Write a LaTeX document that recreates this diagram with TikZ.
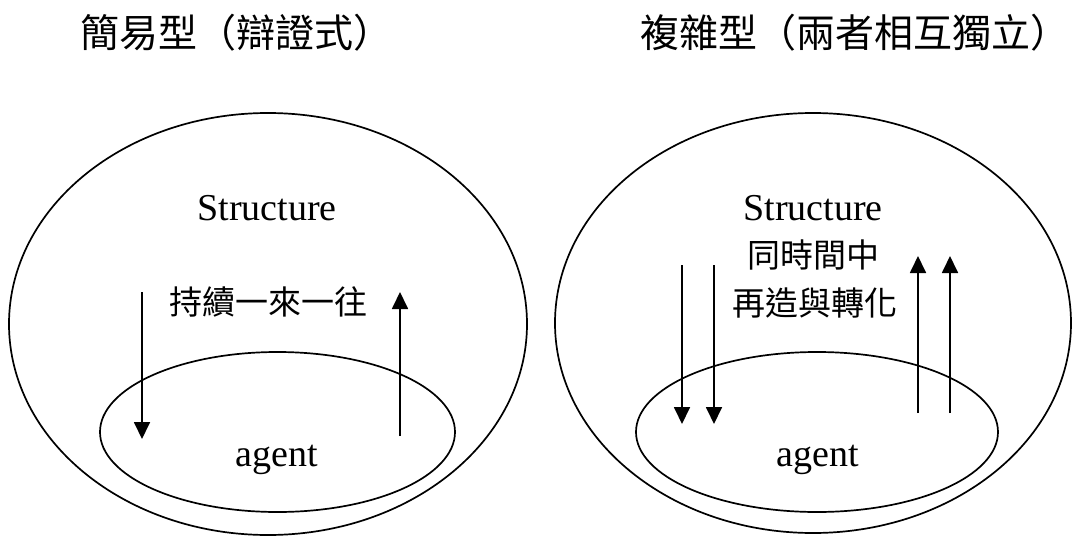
\documentclass[tikz,border=0pt]{standalone}
\usepackage{fontspec}
\setmainfont{Liberation Serif}
\newfontfamily\cjk{Noto Sans CJK TC}
\usetikzlibrary{arrows.meta}
\begin{document}
\begin{tikzpicture}[x=1pt,y=-1pt,
  ring/.style={line width=1.7pt},
  flow/.style={line width=1.8pt,-{Triangle[length=17pt,width=16pt]}},
  latin/.style={font=\fontsize{38}{40}\selectfont,inner sep=0pt},
  cjktext/.style={font=\cjk\fontsize{33}{40}\selectfont,inner sep=0pt},
  title/.style={font=\cjk\fontsize{39}{40}\selectfont,inner sep=0pt,anchor=west}]
\useasboundingbox (0,0) rectangle (1072,536);
% titles
\node[title] (t1) at (80,33) {簡易型（辯證式）};
\node[title] (t2) at (640,33) {複雜型（兩者相互獨立）};
% left diagram
\draw[ring] (268,324) ellipse [x radius=259, y radius=211];
\draw[ring] (277.5,432) ellipse [x radius=177.5, y radius=80];
\node[latin] (s1) at (267,208) {Structure};
\node[latin] (a1) at (277,460) {agent};
\node[cjktext] (c1) at (268,302) {持續一來一往};
\coordinate (d1s) at (142,292); \coordinate (d1e) at (142,439);
\coordinate (u1s) at (400,436); \coordinate (u1e) at (400,292);
\draw[flow] (d1s) -- (d1e);
\draw[flow] (u1s) -- (u1e);
% right diagram
\draw[ring] (813,323) ellipse [x radius=258, y radius=210];
\draw[ring] (817,432) ellipse [x radius=181, y radius=80];
\node[latin] (s2) at (813,208) {Structure};
\node[latin] (a2) at (818,460) {agent};
\node[cjktext] (c2) at (813,255) {同時間中};
\node[cjktext] (c3) at (815,303) {再造與轉化};
\coordinate (d2s) at (682,265); \coordinate (d2e) at (682,424);
\coordinate (d3s) at (714,265); \coordinate (d3e) at (714,424);
\coordinate (u2s) at (918,413); \coordinate (u2e) at (918,256);
\coordinate (u3s) at (950,413); \coordinate (u3e) at (950,256);
\draw[flow] (d2s) -- (d2e);
\draw[flow] (d3s) -- (d3e);
\draw[flow] (u2s) -- (u2e);
\draw[flow] (u3s) -- (u3e);
\end{tikzpicture}
\end{document}
